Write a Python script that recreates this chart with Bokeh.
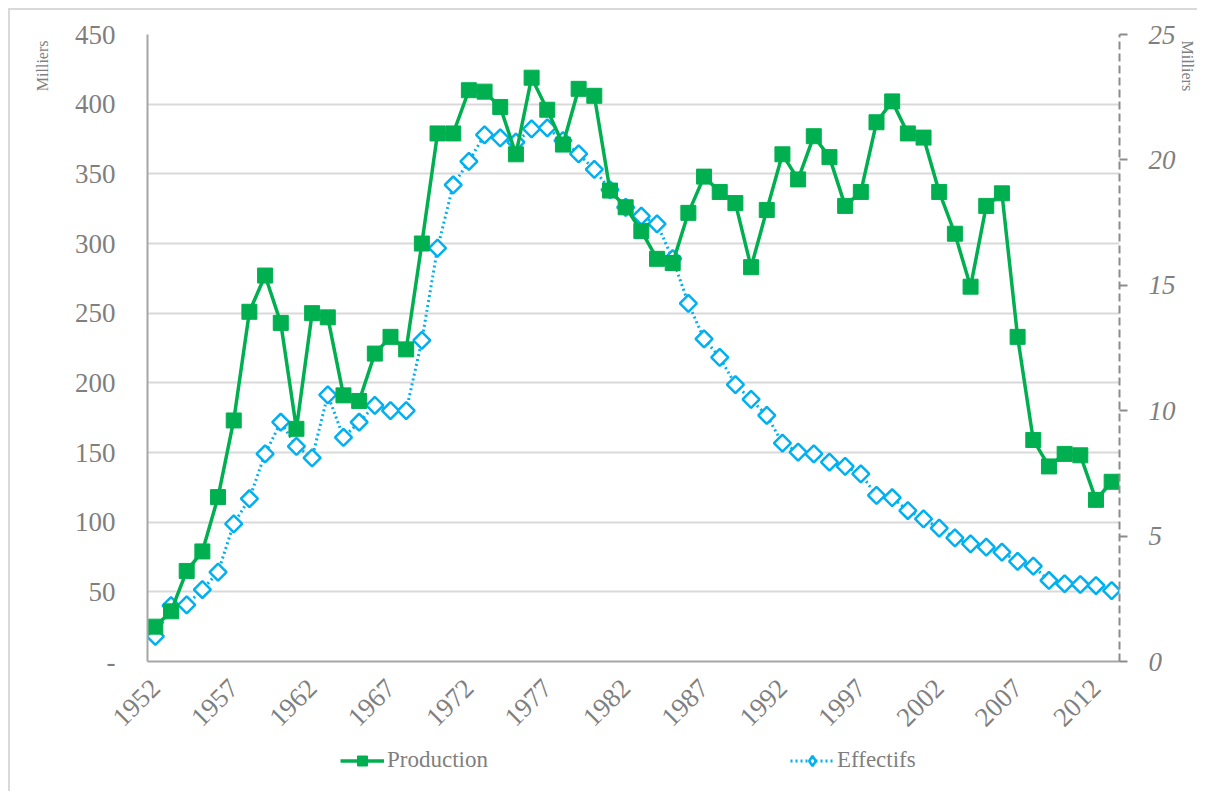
import numpy as np
from bokeh.plotting import figure
from bokeh.layouts import column
from bokeh.models import (Range1d, LinearAxis, FixedTicker, Legend, LegendItem, Title)
from bokeh.embed import file_html
from bokeh.resources import INLINE

years = list(range(1952, 2014))
production = [25, 36, 65, 79, 118, 173, 251, 277, 243, 167, 250, 247, 191, 187, 221, 233,
              224, 300, 379, 379, 410, 409, 398, 364, 419, 396, 371, 411, 406, 338, 326, 309,
              289, 286, 322, 348, 337, 329, 283, 324, 364, 346, 377, 362, 327, 337, 387, 402,
              379, 376, 337, 307, 269, 327, 336, 233, 159, 140, 149, 148, 116, 129]
effectifs = [1.0, 2.23, 2.26, 2.87, 3.56, 5.49, 6.49, 8.28, 9.54, 8.58, 8.12, 10.63, 8.94, 9.54,
             10.21, 10.0, 10.0, 12.8, 16.48, 19.0, 19.94, 21.0, 20.88, 20.71, 21.24, 21.28,
             20.77, 20.24, 19.62, 18.81, 18.11, 17.76, 17.45, 16.06, 14.28, 12.86, 12.13,
             11.04, 10.45, 9.81, 8.71, 8.35, 8.28, 7.95, 7.78, 7.48, 6.62, 6.53, 6.02, 5.69,
             5.32, 4.93, 4.69, 4.56, 4.36, 3.99, 3.80, 3.23, 3.10, 3.07, 3.03, 2.83]
x_ticks = [1952, 1957, 1962, 1967, 1972, 1977, 1982, 1987, 1992, 1997, 2002, 2007, 2012]
left_ticks = [0, 50, 100, 150, 200, 250, 300, 350, 400, 450]
right_ticks = [0, 5, 10, 15, 20, 25]
unit_label = "Milliers"
series_names = ["Production", "Effectifs"]

GREEN = "#00B050"
BLUE = "#00B0F0"
TXT = "#7f7f7f"
FONT = "Liberation Serif"

p = figure(width=1187, height=735, output_backend="svg", toolbar_location=None,
           x_range=Range1d(1951.5, 2013.5), y_range=Range1d(0, 450),
           min_border_left=137, min_border_right=78, min_border_top=24, min_border_bottom=84,
           x_axis_location="below", y_axis_location="left")
p.outline_line_color = None
p.background_fill_color = "white"
p.border_fill_color = "white"

p.extra_y_ranges = {"eff": Range1d(0, 25)}

# left axis
ya = p.yaxis[0]
ya.ticker = FixedTicker(ticks=left_ticks)
ya.major_label_overrides = {0: "-"}
ya.major_tick_out = 0
ya.major_tick_in = 0
ya.minor_tick_out = 0
ya.minor_tick_in = 0
ya.axis_line_color = "#a6a6a6"
ya.axis_line_width = 2
ya.major_label_standoff = 32
ya.major_label_text_font = FONT
ya.major_label_text_font_size = "27px"
ya.major_label_text_color = TXT

# bottom axis
xa = p.xaxis[0]
xa.ticker = FixedTicker(ticks=x_ticks)
xa.major_tick_out = 0
xa.major_tick_in = 0
xa.minor_tick_out = 0
xa.minor_tick_in = 0
xa.axis_line_color = "#a6a6a6"
xa.axis_line_width = 2
xa.major_label_orientation = np.pi / 4
xa.major_label_standoff = 22
xa.major_label_text_font = FONT
xa.major_label_text_font_size = "27px"
xa.major_label_text_color = TXT

# right axis
ra = LinearAxis(y_range_name="eff", ticker=FixedTicker(ticks=right_ticks))
ra.major_tick_out = 8
ra.major_tick_in = 0
ra.minor_tick_out = 0
ra.minor_tick_in = 0
ra.major_tick_line_color = "#8c8c8c"
ra.major_tick_line_width = 2
ra.axis_line_color = "#8c8c8c"
ra.axis_line_width = 2
ra.axis_line_dash = "8 4"
ra.major_label_standoff = 21
ra.major_label_text_font = FONT
ra.major_label_text_font_size = "27px"
ra.major_label_text_font_style = "italic"
ra.major_label_text_color = TXT
p.add_layout(ra, "right")

p.xgrid.grid_line_color = None
p.ygrid.ticker = FixedTicker(ticks=left_ticks)
p.ygrid.grid_line_color = "#d9d9d9"
p.ygrid.grid_line_width = 2

# Effectifs
p.line(years, effectifs, y_range_name="eff", line_color=BLUE, line_width=3, line_dash="2 3")
p.scatter(years, effectifs, y_range_name="eff", marker="square", angle=np.pi / 4,
          size=12, fill_color="white", line_color=BLUE, line_width=2.5)

# Production
p.line(years, production, line_color=GREEN, line_width=3.5)
p.scatter(years, production, marker="square", size=15, fill_color=GREEN,
          line_color=GREEN, line_width=1)

tl = Title(text=unit_label, align="right", standoff=42, offset=6, text_font=FONT,
           text_font_size="16px", text_font_style="normal", text_color=TXT)
p.add_layout(tl, "left")
tr = Title(text=unit_label, align="left", standoff=0, offset=6, text_font=FONT,
           text_font_size="16px", text_font_style="normal", text_color=TXT)
p.add_layout(tr, "right")

# legend strip (series drawn outside its visible ranges, only the keys show)
q = figure(width=1187, height=46, output_backend="svg", toolbar_location=None,
           x_range=Range1d(0, 1), y_range=Range1d(0, 1),
           min_border_left=0, min_border_right=0, min_border_top=0, min_border_bottom=0,
           x_axis_location=None, y_axis_location=None)
q.outline_line_color = None
q.xgrid.grid_line_color = None
q.ygrid.grid_line_color = None
k1l = q.line(years, production, line_color=GREEN, line_width=3.5)
k1s = q.scatter(years, production, marker="square", size=15, fill_color=GREEN,
                line_color=GREEN, line_width=1)
k2l = q.line(years, effectifs, line_color=BLUE, line_width=3, line_dash="2 3")
k2s = q.scatter(years, effectifs, marker="diamond", size=14, fill_color="white",
                line_color=BLUE, line_width=2.5)
lg = Legend(items=[LegendItem(label=series_names[0], renderers=[k1l, k1s]),
                   LegendItem(label=series_names[1], renderers=[k2l, k2s])],
            location=(193, 18), orientation="horizontal", glyph_width=44, glyph_height=25,
            label_standoff=3, padding=0, margin=0, spacing=302,
            border_line_color=None, background_fill_alpha=0, label_text_font=FONT,
            label_text_font_size="23px", label_text_color=TXT)
q.add_layout(lg, "center")

layout = column(p, q, spacing=0)
layout.styles = {"margin-left": "8px", "margin-top": "8px",
                 "border-left": "2px solid #d9d9d9", "border-top": "2px solid #d9d9d9"}

open("out.html", "w").write(file_html(layout, INLINE))
